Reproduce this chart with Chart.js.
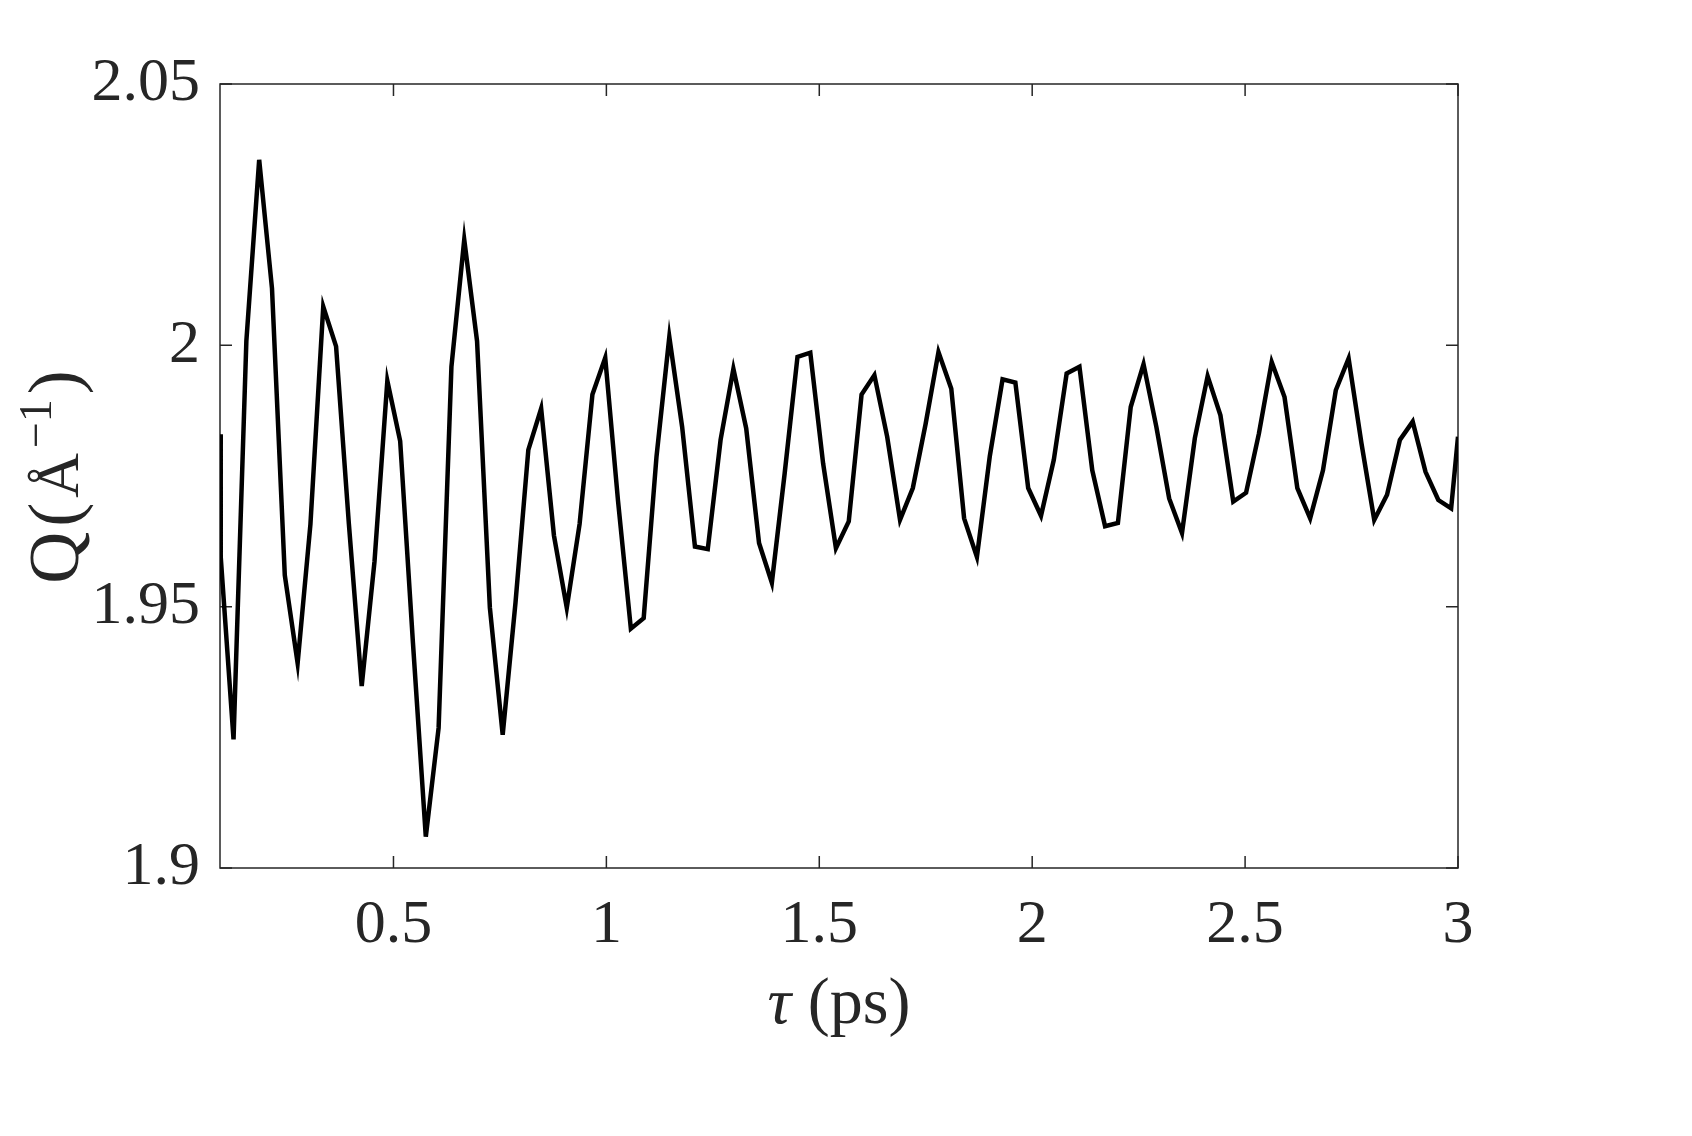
<!DOCTYPE html>
<html>
<head>
<meta charset="utf-8">
<title>Q vs tau</title>
<script src="https://cdn.jsdelivr.net/npm/chart.js@4.4.1/dist/chart.umd.min.js"></script>
<style>
    html, body { margin: 0; padding: 0; background: #ffffff; }
    canvas { display: block; }
</style>
</head>
<body>
<canvas id="grafico" width="1692" height="1136"></canvas>
<script>
// tiempos (ps)
const tau = [
    0.0926, 0.0943, 0.1244, 0.1545, 0.1846, 0.2147, 0.2448, 0.2749, 0.3050, 0.3351,
    0.3652, 0.3953, 0.4254, 0.4555, 0.4856, 0.5157, 0.5458, 0.5759, 0.6060, 0.6361,
    0.6662, 0.6963, 0.7264, 0.7565, 0.7866, 0.8167, 0.8468, 0.8769, 0.9070, 0.9371,
    0.9672, 0.9973, 1.0274, 1.0575, 1.0876, 1.1177, 1.1478, 1.1779, 1.2080, 1.2381,
    1.2682, 1.2983, 1.3284, 1.3585, 1.3886, 1.4187, 1.4488, 1.4789, 1.5090, 1.5391,
    1.5692, 1.5993, 1.6294, 1.6595, 1.6896, 1.7197, 1.7498, 1.7799, 1.8100, 1.8401,
    1.8702, 1.9003, 1.9304, 1.9605, 1.9906, 2.0207, 2.0508, 2.0809, 2.1110, 2.1411,
    2.1712, 2.2013, 2.2314, 2.2615, 2.2916, 2.3217, 2.3518, 2.3819, 2.4120, 2.4421,
    2.4722, 2.5023, 2.5324, 2.5625, 2.5926, 2.6227, 2.6528, 2.6829, 2.7130, 2.7431,
    2.7732, 2.8033, 2.8334, 2.8635, 2.8936, 2.9237, 2.9538, 2.9839, 3.0000
];

// Q (1/Angstrom)
const qValores = [
    1.9830, 1.9595, 1.9246, 2.0008, 2.0355, 2.0109, 1.9560, 1.9392, 1.9658, 2.0074,
    1.9998, 1.9658, 1.9348, 1.9587, 1.9932, 1.9817, 1.9430, 1.9060, 1.9268, 1.9959,
    2.0202, 2.0008, 1.9498, 1.9255, 1.9508, 1.9800, 1.9879, 1.9636, 1.9498, 1.9658,
    1.9906, 1.9976, 1.9702, 1.9458, 1.9478, 1.9787, 2.0016, 1.9844, 1.9615, 1.9610,
    1.9819, 1.9955, 1.9841, 1.9622, 1.9546, 1.9755, 1.9978, 1.9986, 1.9774, 1.9612,
    1.9663, 1.9906, 1.9943, 1.9825, 1.9666, 1.9727, 1.9850, 1.9987, 1.9917, 1.9669,
    1.9595, 1.9787, 1.9935, 1.9929, 1.9727, 1.9674, 1.9781, 1.9946, 1.9959, 1.9761,
    1.9654, 1.9660, 1.9882, 1.9964, 1.9844, 1.9707, 1.9641, 1.9822, 1.9941, 1.9866,
    1.9701, 1.9718, 1.9831, 1.9968, 1.9901, 1.9727, 1.9669, 1.9761, 1.9914, 1.9975,
    1.9813, 1.9666, 1.9714, 1.9819, 1.9854, 1.9758, 1.9704, 1.9688, 1.9825
];

const ticksX = [0.5, 1, 1.5, 2, 2.5, 3];
const ticksY = [1.9, 1.95, 2, 2.05];

const COLOR_EJE = '#262626';
const FUENTE = '"Liberation Serif", "Times New Roman", serif';

// caja estilo MATLAB con marcas hacia dentro en los cuatro lados
const cajaEjes = {
    id: 'cajaEjes',
    beforeDatasetsDraw(chart) {
        const { ctx, chartArea: a, scales } = chart;
        const largo = 12;
        ctx.save();
        ctx.strokeStyle = COLOR_EJE;
        ctx.lineWidth = 1.5;
        ctx.strokeRect(a.left, a.top, a.right - a.left, a.bottom - a.top);
        ctx.beginPath();
        ticksX.forEach(v => {
            const px = scales.x.getPixelForValue(v);
            ctx.moveTo(px, a.bottom); ctx.lineTo(px, a.bottom - largo);
            ctx.moveTo(px, a.top); ctx.lineTo(px, a.top + largo);
        });
        ticksY.forEach(v => {
            const py = scales.y.getPixelForValue(v);
            ctx.moveTo(a.left, py); ctx.lineTo(a.left + largo, py);
            ctx.moveTo(a.right, py); ctx.lineTo(a.right - largo, py);
        });
        ctx.stroke();
        ctx.restore();
    }
};

// titulos de los ejes (tau en cursiva, superindice en Q)
const titulosEjes = {
    id: 'titulosEjes',
    afterDraw(chart) {
        const { ctx, chartArea: a } = chart;
        ctx.save();
        ctx.fillStyle = COLOR_EJE;
        ctx.textBaseline = 'alphabetic';

        // eje x
        const fTau = 'italic 66px ' + FUENTE;
        const fPs = '66px ' + FUENTE;
        ctx.font = fTau;
        const wTau = ctx.measureText('τ').width;
        ctx.font = fPs;
        const wPs = ctx.measureText(' (ps)').width;
        let x = (a.left + a.right) / 2 - (wTau + wPs) / 2;
        ctx.font = fTau;
        ctx.fillText('τ', x, 1023);
        ctx.font = fPs;
        ctx.fillText(' (ps)', x + wTau, 1023);

        // eje y
        const piezas = [
            { t: 'Q', f: 72, sube: 0 },
            { t: '(', f: 72, sube: 0 },
            { t: 'Å', f: 62, sube: 0 },
            { t: '−1', f: 46, sube: 27 },
            { t: ')', f: 72, sube: 0 }
        ];
        const hueco = 5;
        let total = 0;
        piezas.forEach(p => {
            ctx.font = p.f + 'px ' + FUENTE;
            p.w = ctx.measureText(p.t).width;
            total += p.w;
        });
        total += hueco * (piezas.length - 1);
        ctx.translate(78, 477);
        ctx.rotate(-Math.PI / 2);
        let pos = -total / 2;
        piezas.forEach(p => {
            ctx.font = p.f + 'px ' + FUENTE;
            ctx.fillText(p.t, pos, -p.sube);
            pos += p.w + hueco;
        });
        ctx.restore();
    }
};

new Chart(document.getElementById('grafico'), {
    type: 'line',
    data: {
        datasets: [{
            data: tau.map((t, i) => ({ x: t, y: qValores[i] })),
            borderColor: '#000000',
            borderWidth: 4.5,
            pointRadius: 0,
            tension: 0,
            fill: false
        }]
    },
    options: {
        responsive: false,
        animation: false,
        devicePixelRatio: 1,
        layout: { padding: { left: 0, top: 84, right: 234, bottom: 0 } },
        plugins: {
            legend: { display: false },
            tooltip: { enabled: false }
        },
        scales: {
            x: {
                type: 'linear',
                min: 0.0926,
                max: 3,
                grid: { display: false, drawTicks: false },
                border: { display: false },
                afterBuildTicks: (scale) => { scale.ticks = ticksX.map(v => ({ value: v })); },
                afterFit: (scale) => { scale.height = 268; },
                ticks: {
                    padding: 21,
                    maxRotation: 0,
                    color: COLOR_EJE,
                    font: { family: FUENTE, size: 62 },
                    callback: (v) => String(v)
                }
            },
            y: {
                type: 'linear',
                min: 1.9,
                max: 2.05,
                grid: { display: false, drawTicks: false },
                border: { display: false },
                afterBuildTicks: (scale) => { scale.ticks = ticksY.map(v => ({ value: v })); },
                afterFit: (scale) => { scale.width = 220; },
                ticks: {
                    padding: 20,
                    color: COLOR_EJE,
                    font: { family: FUENTE, size: 62 },
                    callback: (v) => String(v)
                }
            }
        }
    },
    plugins: [cajaEjes, titulosEjes]
});
</script>
</body>
</html>
